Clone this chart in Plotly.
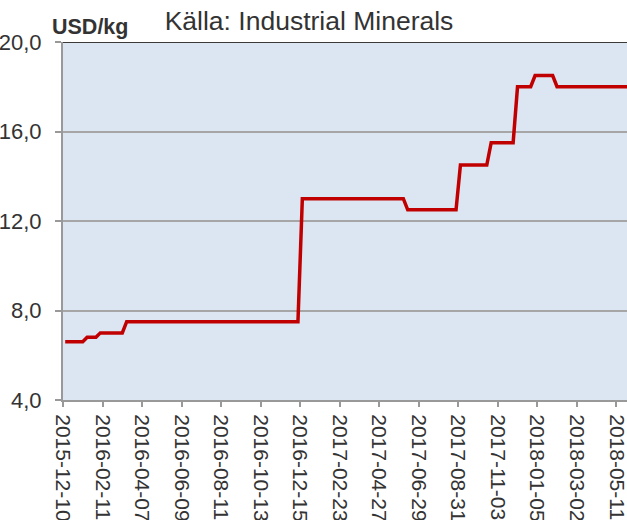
import numpy as np
import plotly.graph_objects as go

# Pris i USD/kg, ungefär en notering per vecka
tick_dates = ['2015-12-10', '2016-02-11', '2016-04-07', '2016-06-09', '2016-08-11',
              '2016-10-13', '2016-12-15', '2017-02-23', '2017-04-27', '2017-06-29',
              '2017-08-31', '2017-11-03', '2018-01-05', '2018-03-02', '2018-05-11']
# vilken notering (löpnummer) varje datumetikett hör till
label_obs = [0, 9, 18, 27, 36, 45, 54, 63, 72, 81, 90, 99, 108, 117, 126]

# prisnivåer och hur många noteringar i rad som ligger på varje nivå
price_levels = [6.6, 6.8, 7.0, 7.5, 13.0, 12.5, 14.5, 15.5, 18.0, 18.5, 18.0]
obs_per_level = [5, 3, 6, 40, 24, 12, 7, 6, 4, 5, 19]

prices = np.repeat(price_levels, obs_per_level)
obs = np.arange(len(prices))

x_range = [-0.5, 127.93]
tickpos = [i - 0.5 for i in label_obs]

W, H = 627, 520

fig = go.Figure()
fig.add_trace(go.Scatter(x=obs, y=prices, mode='lines',
                         line=dict(color='#c00000', width=3.5),
                         showlegend=False))

fig.update_layout(
  width=W, height=H,
  margin=dict(l=63, r=0, t=42, b=120),
  paper_bgcolor='white', plot_bgcolor='#dce6f2',
  separators=', ',
  font=dict(family='Liberation Sans, Arial', size=21, color='#333333'),
  title=dict(text='Källa: Industrial Minerals', font=dict(size=26.5, color='#333333'),
             x=309/W, xanchor='center', y=1 - 20.5/H, yanchor='middle'),
  xaxis=dict(range=x_range, tickmode='array', tickvals=tickpos, ticktext=tick_dates,
             tickangle=90, ticks='outside', ticklen=5, tickwidth=2, tickcolor='#999999',
             ticklabelstandoff=3, ticklabeloverflow='allow', automargin=False,
             showline=True, linecolor='#999999', linewidth=2,
             showgrid=False, zeroline=False, tickfont=dict(size=21)),
  xaxis2=dict(overlaying='x', anchor='y', range=x_range, tickmode='array', tickvals=tickpos,
              ticks='inside', ticklen=6, tickwidth=2, tickcolor='#999999', automargin=False,
              showticklabels=False, showline=False, showgrid=False, zeroline=False),
  yaxis=dict(range=[4, 20], tick0=4, dtick=4, tickformat='.1f',
             ticks='outside', ticklen=6, tickwidth=2, tickcolor='#999999',
             ticklabelstandoff=9, automargin=False,
             showline=True, linecolor='#999999', linewidth=2,
             showgrid=True, gridcolor='#a6a6a6', gridwidth=2, zeroline=False,
             tickfont=dict(size=22)),
  shapes=[dict(type='line', xref='paper', x0=0, x1=1, yref='y', y0=20, y1=20,
               line=dict(color='#3a3a3a', width=2))],
  annotations=[dict(text='<b>USD/kg</b>', xref='paper', yref='paper',
                    x=(50 - 63)/564, y=(400 - 27)/358, xanchor='left', yanchor='middle',
                    showarrow=False, font=dict(size=21.5, color='#333333'))],
)

# ta bort sidans standardmarginal så att figuren fyller fönstret
fig.write_html('out.html', config={'displayModeBar': False},
               post_script="document.body.style.margin='0';document.body.style.overflow='hidden';")
